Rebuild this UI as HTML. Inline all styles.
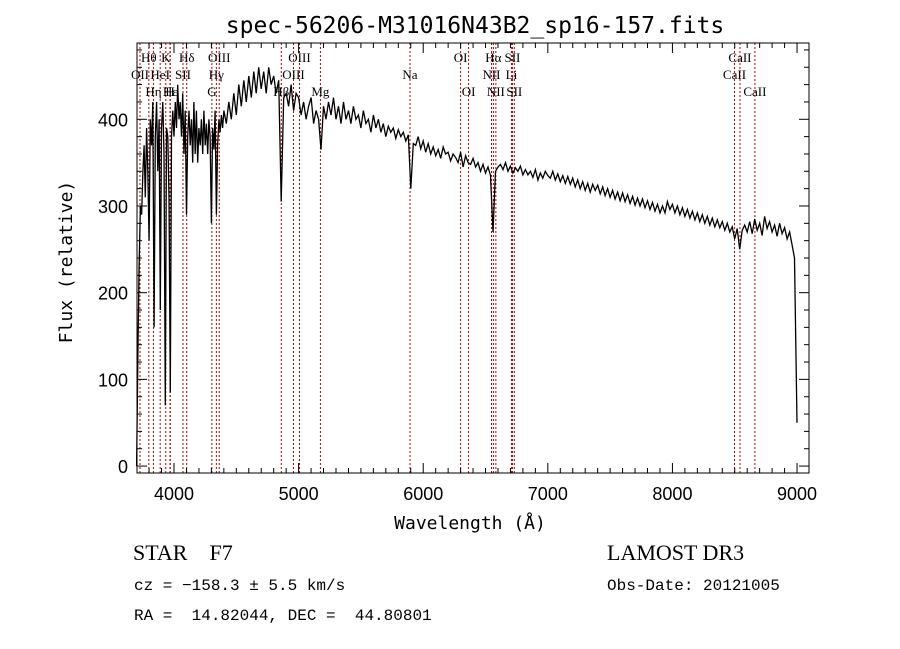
<!DOCTYPE html>
<html><head><meta charset="utf-8"><style>
body{margin:0;background:#fff;}
svg{display:block;}
text{fill:#000;white-space:pre;}
</style></head><body>
<svg id="c" width="900" height="649" xmlns="http://www.w3.org/2000/svg">
<text x="475" y="33" text-anchor="middle" font-family="DejaVu Sans Mono, Liberation Mono, monospace" font-size="23">spec-56206-M31016N43B2_sp16-157.fits</text>
<g id="lines"></g>
<g id="labels" font-family="Liberation Serif, serif" font-size="13"></g>
<g id="spec"></g>
<rect x="137" y="43" width="672" height="430" fill="none" stroke="#000" stroke-width="1"/>
<g id="axes"></g>
<text x="470" y="529" text-anchor="middle" font-family="DejaVu Sans Mono, Liberation Mono, monospace" font-size="18">Wavelength (Å)</text>
<text transform="translate(72,262) rotate(-90)" text-anchor="middle" font-family="DejaVu Sans Mono, Liberation Mono, monospace" font-size="18">Flux (relative)</text>
<text x="133" y="560" font-family="Liberation Serif, serif" font-size="22" xml:space="preserve">STAR    F7</text>
<text x="607" y="560" font-family="Liberation Serif, serif" font-size="22">LAMOST DR3</text>
<text x="134" y="590" font-family="Liberation Mono, monospace" font-size="16" xml:space="preserve">cz = −158.3 ± 5.5 km/s</text>
<text x="607" y="590" font-family="Liberation Mono, monospace" font-size="16">Obs-Date: 20121005</text>
<text x="134" y="620" font-family="Liberation Mono, monospace" font-size="16" xml:space="preserve">RA =  14.82044, DEC =  44.80801</text>
</svg>
<script>
// blue segment: 3700..4400 Å, 10 Å bins
const blueStart=3700, blueStep=10;
const blueFlux=[0,130,230,300,290,340,370,310,390,340,
260,400,370,420,160,380,420,340,400,180,
390,420,360,70,390,380,310,85,380,410,
380,420,390,440,400,420,380,430,360,410,
290,380,410,370,400,350,420,360,410,350,
390,370,400,360,410,370,395,360,400,380,
280,390,365,410,290,370,400,385,405,390,410];
// red segment: 4420..9000 Å, 20 Å bins
const redStart=4420, redStep=20;
const redFlux=[395,420,400,430,405,440,415,445,420,450,
425,455,430,460,435,455,430,460,440,450,
430,445,305,425,430,415,440,410,430,425,
405,420,400,415,425,395,410,400,365,415,
400,420,405,425,400,415,395,420,400,410,
395,415,400,405,390,410,395,400,385,405,
390,400,385,395,380,392,385,390,378,388,
380,385,375,382,320,372,370,380,366,375,
362,372,360,368,358,365,355,368,360,362,
352,360,356,350,362,345,358,350,348,355,
345,350,340,348,338,345,335,270,340,345,
348,342,350,340,346,338,344,340,346,336,
342,336,340,333,342,330,338,332,340,335,
332,340,330,337,328,335,326,334,325,332,
322,330,320,328,318,326,316,325,318,324,
314,322,312,320,310,318,308,316,306,315,
305,313,303,311,301,309,300,308,298,306,
296,304,294,302,292,300,292,305,296,302,
292,300,290,298,288,296,286,294,284,292,
282,290,280,288,278,286,276,284,275,282,
272,280,270,276,262,274,250,272,278,270,
282,268,285,272,280,266,288,274,282,270,
278,265,280,268,275,262,270,255,240,50];
const lineWave=[3727,3798,3835,3889,3934,3968,3970,4072,4102,4304,4340,4363,4861,4959,5007,5175,5894,6300,6364,6548,6563,6583,6708,6716,6731,8498,8542,8662];
const labelText=["OII","Hθ","Hη","HeI","K","H","Hε","SII","Hδ","G","Hγ","OIII","Hβ","OIII","OIII","Mg","Na","OI","OI","NII","Hα","NII","Li","SII","SII","CaII","CaII","CaII"];
const labelRow=[2,1,3,2,1,3,3,2,1,3,2,1,3,2,1,3,2,1,3,2,1,3,2,1,3,2,1,3];
const xTicks=[4000,5000,6000,7000,8000,9000];
const yTicks=[0,100,200,300,400];
const X0=137,X1=809,Y0=473,Y1=43,WMIN=3703,WMAX=9096,FMIN=-8,FMAX=488;
const xs=w=>X0+(w-WMIN)/(WMAX-WMIN)*(X1-X0);
const ys=f=>Y0-(f-FMIN)/(FMAX-FMIN)*(Y0-Y1);
const NS='http://www.w3.org/2000/svg';
function mk(tag,attrs,parent){const e=document.createElementNS(NS,tag);for(const k in attrs)e.setAttribute(k,attrs[k]);parent.appendChild(e);return e;}
const gl=document.getElementById('lines'),glab=document.getElementById('labels'),gs=document.getElementById('spec'),ga=document.getElementById('axes');
lineWave.forEach((w,i)=>{
  const l=mk('line',{x1:xs(w),x2:xs(w),y1:Y1,y2:Y0,stroke:'#b00000','stroke-width':1,'stroke-dasharray':'2,2'},gl);
  
  
  const t=mk('text',{x:xs(w),y:62+(labelRow[i]-1)*17,'text-anchor':'middle'},glab);
  t.textContent=labelText[i];
  
  
});
const pts=[];
blueFlux.forEach((f,i)=>pts.push(xs(blueStart+i*blueStep).toFixed(1)+','+ys(f).toFixed(1)));
redFlux.forEach((f,i)=>pts.push(xs(redStart+i*redStep).toFixed(1)+','+ys(f).toFixed(1)));
const pl=mk('polyline',{points:pts.join(' '),fill:'none',stroke:'#000','stroke-width':1.3},gs);


for(let w=3800;w<=9000;w+=100){
  const major=w%1000===0,len=major?10:5,x=xs(w);
  mk('line',{x1:x,x2:x,y1:Y0,y2:Y0-len,stroke:'#000'},ga);
  mk('line',{x1:x,x2:x,y1:Y1,y2:Y1+len,stroke:'#000'},ga);
}
for(let f=0;f<=480;f+=20){
  const major=f%100===0,len=major?10:5,y=ys(f);
  mk('line',{x1:X0,x2:X0+len,y1:y,y2:y,stroke:'#000'},ga);
  mk('line',{x1:X1,x2:X1-len,y1:y,y2:y,stroke:'#000'},ga);
}
xTicks.forEach(w=>{const t=mk('text',{x:xs(w),y:Y0+27,'text-anchor':'middle','font-family':'Liberation Sans, sans-serif','font-size':18},ga);t.textContent=w;
  
  });
yTicks.forEach(f=>{const t=mk('text',{x:X0-9,y:ys(f)+7,'text-anchor':'end','font-family':'Liberation Sans, sans-serif','font-size':18},ga);t.textContent=f;
  
  });
</script>
</body></html>
